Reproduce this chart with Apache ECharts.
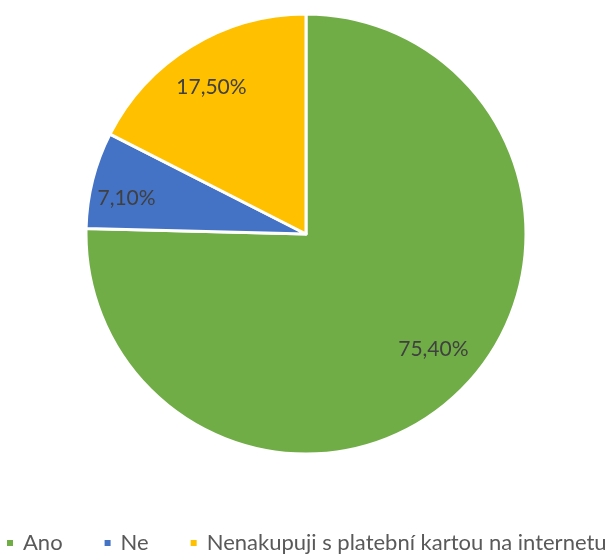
<!DOCTYPE html>
<html>
<head>
<meta charset="utf-8">
<script src="https://cdn.jsdelivr.net/npm/echarts@6/dist/echarts.min.js"></script>
<style>
    html, body { margin: 0; padding: 0; background: #fff; }
    #chart { width: 614px; height: 554px; }
</style>
</head>
<body>
<div id="chart"></div>
<script>
const categories = ["Ano", "Ne", "Nenakupuji s platební kartou na internetu"];
const values = [75.4, 7.1, 17.5];
const colors = ["#70AD47", "#4472C4", "#FFC000"];

// small nudges so labels sit where Excel put them
const labelOffsets = [[1, -14], [-4, 9], [0, 8]];

const chart = echarts.init(document.getElementById("chart"));

const pieData = categories.map((name, i) => ({
    name: name,
    value: values[i],
    itemStyle: { color: colors[i] }
}));

function fmt(p) {
    return p.value.toFixed(2).replace(".", ",") + "%";
}

chart.setOption({
    animation: false,
    legend: {
        left: 0,
        top: 527,
        icon: "rect",
        itemWidth: 8,
        itemHeight: 8,
        itemGap: 40,
        textStyle: {
            fontFamily: "Lato",
            fontSize: 22,
            color: "#595959",
            padding: [0, 0, 0, 4]
        },
        data: categories
    },
    series: [
        {
            type: "pie",
            center: [306, 234],
            radius: 220,
            startAngle: 90,
            clockwise: true,
            label: { show: false },
            labelLine: { show: false },
            itemStyle: { borderColor: "#fff", borderWidth: 3 },
            emphasis: { disabled: true },
            data: pieData
        },
        {
            type: "pie",
            center: [306, 234],
            radius: [140, 216],
            startAngle: 90,
            clockwise: true,
            silent: true,
            itemStyle: { color: "transparent", borderWidth: 0 },
            label: {
                show: true,
                position: "inside",
                formatter: fmt,
                fontFamily: "Lato",
                fontSize: 21,
                color: "#404040"
            },
            labelLine: { show: false },
            emphasis: { disabled: true },
            data: categories.map((name, i) => ({
                name: name,
                value: values[i],
                label: { offset: labelOffsets[i] }
            }))
        }
    ]
});
</script>
</body>
</html>
